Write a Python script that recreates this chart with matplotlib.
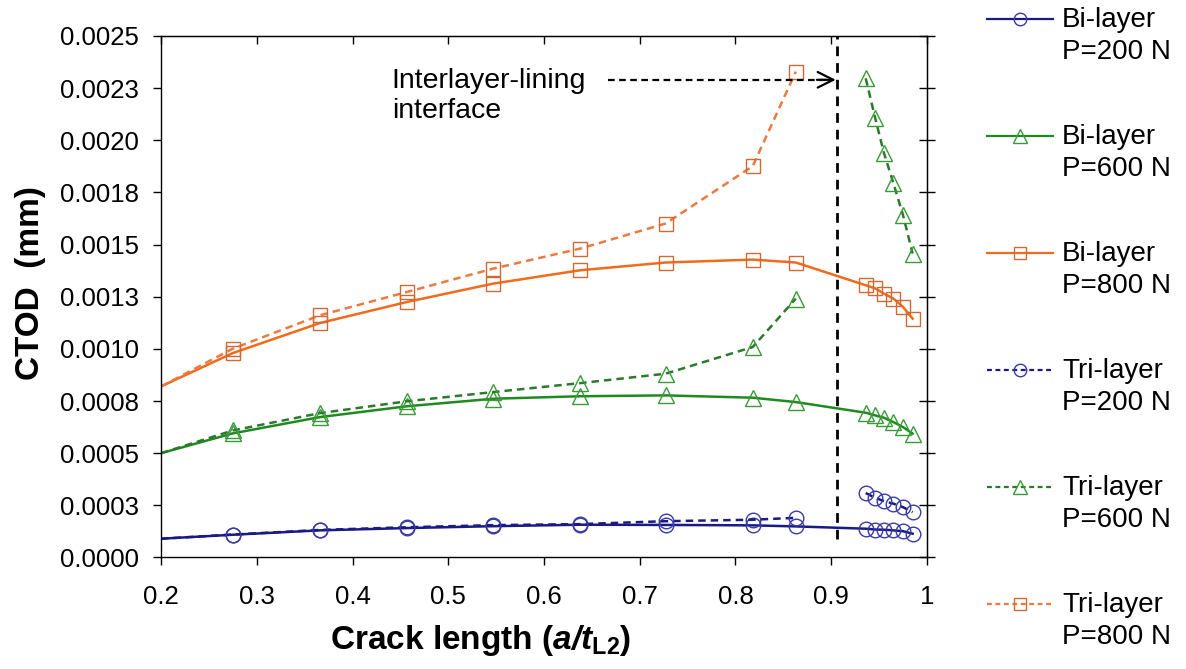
import numpy as np
import matplotlib.pyplot as plt
from matplotlib.lines import Line2D

plt.rcParams['font.family'] = ['Liberation Sans', 'DejaVu Sans']
plt.rcParams['mathtext.fontset'] = 'custom'
plt.rcParams['mathtext.rm'] = 'Liberation Sans'
plt.rcParams['mathtext.it'] = 'Liberation Sans:italic'
plt.rcParams['mathtext.bf'] = 'Liberation Sans:bold'
plt.rcParams['mathtext.bfit'] = 'Liberation Sans:italic:bold'

# crack length a/t_L2
x_bi = [0.2, 0.275, 0.366, 0.457, 0.547, 0.638, 0.727, 0.818, 0.863,
        0.936, 0.946, 0.955, 0.965, 0.975, 0.985]
x_tri_in = [0.2, 0.275, 0.366, 0.457, 0.547, 0.638, 0.727, 0.818, 0.863]
x_tri_out = [0.936, 0.946, 0.955, 0.965, 0.975, 0.985]

# CTOD (mm), bi-layer
bi_200 = [0.00009, 0.000109, 0.00013, 0.000141, 0.00015, 0.000157, 0.000156, 0.000154, 0.000149,
          0.000138, 0.000134, 0.000133, 0.00013, 0.000126, 0.000114]
bi_600 = [0.0005, 0.000595, 0.000673, 0.000725, 0.000761, 0.000773, 0.000777, 0.000766, 0.000745,
          0.000694, 0.000681, 0.00067, 0.000649, 0.000625, 0.000594]
bi_800 = [0.00082, 0.00098, 0.001124, 0.001225, 0.001313, 0.001377, 0.001414, 0.001428, 0.001414,
          0.001305, 0.00129, 0.001265, 0.001241, 0.001201, 0.001145]

# CTOD (mm), tri-layer: below and beyond the interlayer-lining interface
tri_200_in = [0.00009, 0.00011, 0.000132, 0.000145, 0.000155, 0.00016, 0.000174, 0.000181, 0.00019]
tri_200_out = [0.000309, 0.000286, 0.00027, 0.000258, 0.000241, 0.000217]
tri_600_in = [0.0005, 0.000609, 0.000692, 0.000749, 0.000793, 0.000836, 0.000881, 0.001009, 0.001241]
tri_600_out = [0.002297, 0.002105, 0.00194, 0.001793, 0.001641, 0.001457]
tri_800_in = [0.00082, 0.001001, 0.001161, 0.001273, 0.001385, 0.001481, 0.001601, 0.001876, 0.002329]
tri_800_out = []

interface_x = 0.9057

x_ticks = [0.2, 0.3, 0.4, 0.5, 0.6, 0.7, 0.8, 0.9, 1.0]
x_ticklabels = ['0.2', '0.3', '0.4', '0.5', '0.6', '0.7', '0.8', '0.9', '1']
y_ticks = [0, 0.00025, 0.0005, 0.00075, 0.001, 0.00125, 0.0015, 0.00175, 0.002, 0.00225, 0.0025]
y_ticklabels = ['0.0000', '0.0003', '0.0005', '0.0008', '0.0010', '0.0013',
                '0.0015', '0.0018', '0.0020', '0.0023', '0.0025']

layers = ['Bi-layer', 'Bi-layer', 'Bi-layer', 'Tri-layer', 'Tri-layer', 'Tri-layer']
loads = ['200', '600', '800', '200', '600', '800']

blue, green, orange = '#1a1a85', '#1f8a1f', '#f26a1b'
blue_m, green_m, orange_m = '#3a3aa5', '#3a9a3a', '#cf6a35'

fig = plt.figure(figsize=(11.86, 6.69), dpi=100)
ax = fig.add_axes([0.1358, 0.1667, 0.6458, 0.7795])

styles = [
    dict(color=blue, mec=blue_m, marker='o', ms=10.5, ls='-'),
    dict(color=green, mec=green_m, marker='^', ms=11.5, ls='-'),
    dict(color=orange, mec=orange_m, marker='s', ms=10.5, ls='-'),
    dict(color=blue, mec=blue_m, marker='o', ms=10.5, ls='--', dashes=(3, 2)),
    dict(color='#2a7a2a', mec=green_m, marker='^', ms=11.5, ls='--', dashes=(3, 2)),
    dict(color='#ec7a40', mec=orange_m, marker='s', ms=10.5, ls='--', dashes=(3, 2)),
]
common = dict(lw=1.8, mfc='none', mew=1.0)

for y, st in zip([bi_200, bi_600, bi_800], styles[:3]):
    ax.plot(x_bi, y, markevery=list(range(1, len(x_bi))), **st, **common)

for yin, yout, st in zip([tri_200_in, tri_600_in, tri_800_in],
                         [tri_200_out, tri_600_out, tri_800_out], styles[3:]):
    ax.plot(x_tri_in, yin, markevery=list(range(1, len(x_tri_in))), **st, **common)
    if yout:
        ax.plot(x_tri_out[:len(yout)], yout, **st, **common)

# interlayer-lining interface
ax.plot([interface_x, interface_x], [0.00009, 0.0025], color='black', lw=2.0,
        ls='--', dashes=(3.5, 2.5), clip_on=False)
ax.plot([0.667, 0.895], [0.00229, 0.00229], color='black', lw=1.6, ls='--', dashes=(3, 2))
ax.annotate('', xy=(interface_x - 0.001, 0.00229), xytext=(0.885, 0.00229),
            arrowprops=dict(arrowstyle='->', color='black', lw=1.6, mutation_scale=28,
                            shrinkA=0, shrinkB=0))
ax.text(0.441, 0.002345, 'Interlayer-lining\ninterface', fontsize=20.5, va='top', ha='left',
        linespacing=1.2)

ax.set_xlim(0.2, 1.0)
ax.set_ylim(0, 0.0025)
ax.set_xticks(x_ticks)
ax.set_xticklabels(x_ticklabels)
ax.set_yticks(y_ticks)
ax.set_yticklabels(y_ticklabels)
ax.tick_params(axis='both', direction='out', length=6, width=1.0, labelsize=18.5)
ax.tick_params(axis='x', pad=14)
ax.tick_params(axis='y', pad=10)
for s in ax.spines.values():
    s.set_linewidth(1.0)

top = ax.secondary_xaxis('top')
top.set_xticks(x_ticks)
top.tick_params(direction='in', length=6, width=1.0, labeltop=False)
right = ax.secondary_yaxis('right')
right.set_yticks(y_ticks)
right.tick_params(direction='inout', length=11, width=1.0, labelright=False)

ax.set_xlabel(r'Crack length ($\mathbfit{a/t}_{\mathbf{L2}}$)', fontsize=24, fontweight='bold')
ax.xaxis.set_label_coords(0.417, -0.159)
ax.xaxis.label.set_va('center')
ax.set_ylabel('CTOD  (mm)', fontsize=24, fontweight='bold')
ax.yaxis.set_label_coords(-0.17, 0.526)
ax.yaxis.label.set_va('center')

# legend drawn beside the plot, line sample level with first text line
W, H = 1186.0, 669.0
for i, (layer, load, st) in enumerate(zip(layers, loads, styles)):
    yc = 1 - (19 + 117 * i) / H
    xs = [987 / W, 1020 / W, 1053 / W]
    kw = dict(st)
    kw['ms'] = kw['ms'] - 1.5
    if 'dashes' in kw:
        kw['dashes'] = (2.2, 1.6)
    fig.add_artist(Line2D(xs, [yc] * 3, transform=fig.transFigure, markevery=[1],
                          lw=1.6, mfc='none', mew=1.0, **kw))
    fig.text(1062 / W, 1 - (36 + 117 * i) / H, f'{layer}\nP={load} N', fontsize=20,
             va='center', ha='left', linespacing=1.3)

fig.savefig('out.png', dpi=100)
